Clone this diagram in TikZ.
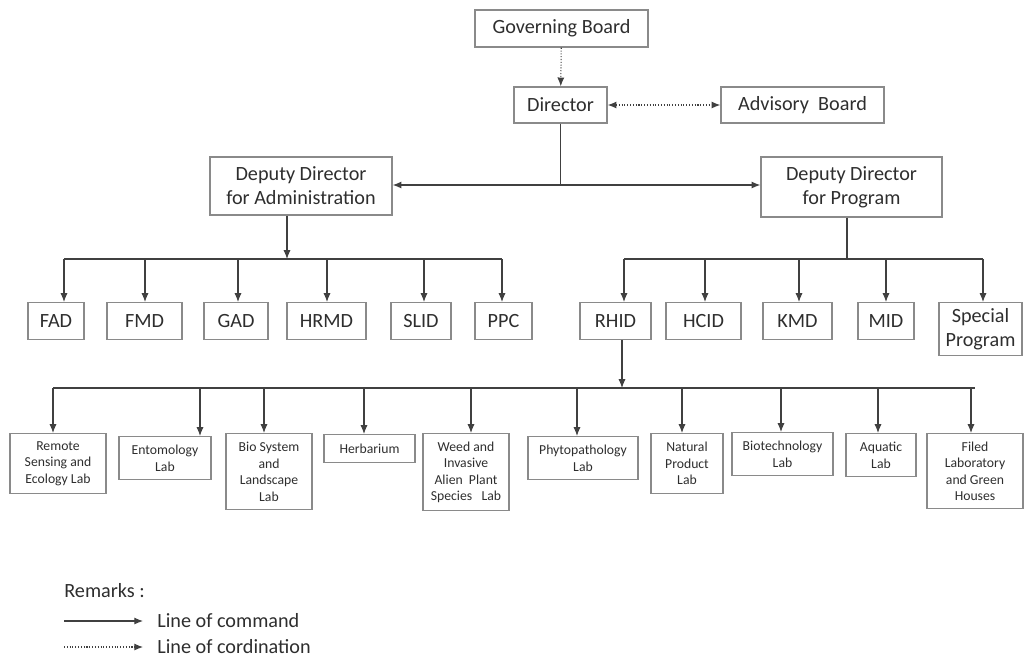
\documentclass[tikz,border=0pt]{standalone}
\usepackage{fontspec}
\setmainfont{Carlito}
\usetikzlibrary{arrows.meta}
\definecolor{boxgray}{HTML}{8A8A8A}
\definecolor{linegray}{HTML}{404040}
\definecolor{txtgray}{HTML}{2E2E2E}

\begin{document}
\begin{tikzpicture}[x=0.02cm,y=-0.02cm,
    box/.style={draw=boxgray,line width=0.8pt,text=txtgray,align=center,inner sep=1pt,
      font=\fontsize{11.5}{13.6}\selectfont},
    unit/.style={box,anchor=north,minimum height=0.74cm},
    lab/.style={box,anchor=north,font=\fontsize{7.8}{9.4}\selectfont},
    link/.style={linegray,line width=0.6pt},
    cmd/.style={link,-{Latex[length=5pt,width=4pt]}},
    coord/.style={link,densely dotted,-{Latex[length=5pt,width=4pt]}}]
  \useasboundingbox (0,0) rectangle (1024,657);

  % board and director
  \node[box,minimum width=3.46cm,minimum height=0.74cm] (gb) at (561.5,28.5) {Governing Board};
  \node[box,minimum width=1.86cm,minimum height=0.72cm] (dir) at (560.5,105) {Director};
  \node[box,minimum width=3.26cm,minimum height=0.72cm] (adv) at (802.5,105) {Advisory\ \ Board};
  \draw[coord] (gb) -- (dir);
  \draw[coord,{Latex[length=5pt,width=4pt]}-{Latex[length=5pt,width=4pt]}] (dir) -- (adv);

  % deputies
  \node[box,minimum width=3.64cm,minimum height=1.16cm] (dda) at (301,186) {Deputy Director\\for Administration};
  \node[box,minimum width=3.62cm,minimum height=1.2cm] (ddp) at (851.5,187) {Deputy Director\\for Program};
  \coordinate (split) at (560.5,185);
  \draw[link] (dir) -- (split);
  \draw[cmd] (split) -- (split -| dda.east);
  \draw[cmd] (split) -- (split -| ddp.west);

  % administration units
  \node[unit,minimum width=1.12cm] (fad) at (56,302) {FAD};
  \node[unit,minimum width=1.5cm] (fmd) at (144.5,302) {FMD};
  \node[unit,minimum width=1.28cm] (gad) at (236,302) {GAD};
  \node[unit,minimum width=1.58cm] (hrmd) at (326.5,302) {HRMD};
  \node[unit,minimum width=1.2cm] (slid) at (421,302) {SLID};
  \node[unit,minimum width=1.14cm] (ppc) at (503.5,302) {PPC};
  \coordinate (abus) at (287,259);
  \coordinate (abusl) at (64,259);
  \coordinate (abusr) at (502,259);
  \draw[cmd] (dda.south -| abus) -- (abus);
  \draw[link] (abusl) -- (abusr);
  \foreach \n/\x in {fad/64,fmd/145,gad/238,hrmd/327,slid/424,ppc/502}
    \draw[cmd] (\x,259) -- (\x,259 |- \n.north);

  % program units
  \node[unit,minimum width=1.42cm] (rhid) at (615.5,302) {RHID};
  \node[unit,minimum width=1.5cm] (hcid) at (703.5,302) {HCID};
  \node[unit,minimum width=1.38cm] (kmd) at (797.5,302) {KMD};
  \node[unit,minimum width=1.12cm] (mid) at (886,302) {MID};
  \node[unit,minimum width=1.66cm,minimum height=1.06cm] (spp) at (980.5,302) {Special\\Program};
  \coordinate (pbus) at (847,259);
  \coordinate (pbusl) at (624,259);
  \coordinate (pbusr) at (983,259);
  \draw[link] (ddp.south -| pbus) -- (pbus);
  \draw[link] (pbusl) -- (pbusr);
  \foreach \n/\x in {rhid/624,hcid/705,kmd/799,mid/886,spp/983}
    \draw[cmd] (\x,259) -- (\x,259 |- \n.north);

  % laboratories under RHID
  \node[lab,minimum width=1.92cm,minimum height=1.2cm] (rsl) at (58,433) {Remote\\Sensing and\\Ecology Lab};
  \node[lab,minimum width=1.84cm,minimum height=0.86cm] (ent) at (165,436) {Entomology\\Lab};
  \node[lab,minimum width=1.72cm,minimum height=1.52cm] (bio) at (269,433) {Bio System\\and\\Landscape\\Lab};
  \node[lab,minimum width=1.82cm,minimum height=0.56cm] (herb) at (369.5,434) {Herbarium};
  \node[lab,minimum width=1.72cm,minimum height=1.54cm] (weed) at (466,433) {Weed and\\Invasive\\Alien\ \ Plant\\Species\ \ \ Lab};
  \node[lab,minimum width=2.2cm,minimum height=0.86cm] (phy) at (583,436) {Phytopathology\\Lab};
  \node[lab,minimum width=1.44cm,minimum height=1.2cm] (nat) at (687,433) {Natural\\Product\\Lab};
  \node[lab,minimum width=2.02cm,minimum height=0.86cm] (bt) at (782.5,432) {Biotechnology\\Lab};
  \node[lab,minimum width=1.4cm,minimum height=0.86cm] (aq) at (881,433) {Aquatic\\Lab};
  \node[lab,minimum width=1.92cm,minimum height=1.5cm] (fl) at (975,433) {Filed\\Laboratory\\and Green\\Houses};
  \coordinate (lbus) at (622,388);
  \coordinate (lbusl) at (53,388);
  \coordinate (lbusr) at (975,388);
  \draw[cmd] (rhid.south -| lbus) -- (lbus);
  \draw[link] (lbusl) -- (lbusr);
  \foreach \n/\x in {rsl/53,ent/200,bio/264,herb/364,weed/471,phy/577,nat/682,bt/781,aq/878,fl/971}
    \draw[cmd] (\x,388) -- (\x,388 |- \n.north);

  % remarks
  \node[anchor=west,text=txtgray,inner sep=0pt,font=\fontsize{11.5}{13.6}\selectfont] (rem) at (64,591) {Remarks :};
  \node[anchor=west,text=txtgray,inner sep=0pt,font=\fontsize{11.5}{13.6}\selectfont] (lcmd) at (157,621) {Line of command};
  \node[anchor=west,text=txtgray,inner sep=0pt,font=\fontsize{11.5}{13.6}\selectfont] (lcrd) at (157,647) {Line of cordination};
  \coordinate (lc1) at (64,621);
  \coordinate (lc2) at (64,647);
  \draw[cmd,shorten >=14pt*0.567] (lc1) -- (lcmd.west);
  \draw[coord,shorten >=14pt*0.567] (lc2) -- (lcrd.west);
\end{tikzpicture}
\end{document}
